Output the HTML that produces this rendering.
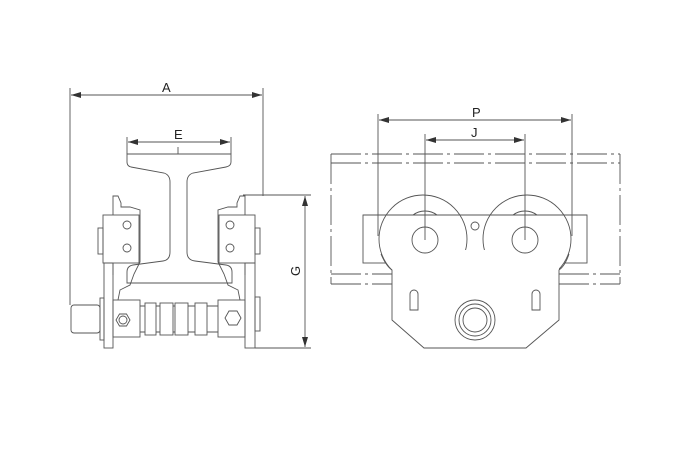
<!DOCTYPE html>
<html><head><meta charset="utf-8"><style>
html,body{margin:0;padding:0;background:#fff;}
svg{display:block}
text{font-family:"Liberation Sans",sans-serif;font-size:13px;fill:#222}
</style></head><body>
<svg width="690" height="460" viewBox="0 0 690 460" xmlns="http://www.w3.org/2000/svg">
<defs>
<marker id="ar" viewBox="0 0 10 6" refX="10" refY="3" markerWidth="10" markerHeight="6" orient="auto-start-reverse" markerUnits="userSpaceOnUse"><path d="M0,0 L10,3 L0,6 z" fill="#333"/></marker>
</defs>
<g fill="none" stroke="#555" stroke-width="0.9">
<line x1="70" y1="88" x2="70" y2="305"/>
<line x1="263" y1="88" x2="263" y2="196"/>
<line x1="71" y1="95" x2="262" y2="95" marker-start="url(#ar)" marker-end="url(#ar)"/>
<line x1="127" y1="137" x2="127" y2="154"/>
<line x1="231" y1="137" x2="231" y2="154"/>
<line x1="128" y1="142" x2="230" y2="142" marker-start="url(#ar)" marker-end="url(#ar)"/>
<line x1="178" y1="147" x2="178" y2="154"/>
<path d="M127,154 L231,154 L231,162 Q231,166 226,167 L193,173 Q187,175 187,182 L187,252 Q187,260 195,261 L226,265 Q232,266 232,272 L232,283 L127,283 L127,272 Q127,266 133,265 L163,261 Q170,260 170,252 L170,182 Q170,175 164,173 L131,167 Q127,166 127,162 Z"/>
<line x1="243" y1="195" x2="311" y2="195"/>
<line x1="255" y1="348" x2="311" y2="348"/>
<line x1="305" y1="196" x2="305" y2="347" marker-start="url(#ar)" marker-end="url(#ar)"/>
<path d="M113,275 L113,196 L118,196 L121,203 L121,207 L130,207 L140,210 L140,262 L134,274 L130,285 L120,290 L118,300"/>
<rect x="103" y="215" width="36" height="48" fill="#fff"/>
<circle cx="127" cy="225" r="4"/>
<circle cx="127" cy="248" r="4"/>
<rect x="98" y="228" width="5" height="26"/>
<rect x="104" y="263" width="9" height="85"/>
<path d="M245,275 L245,196 L240,196 L237,203 L237,207 L228,207 L218,210 L218,262 L224,274 L228,285 L238,290 L240,300"/>
<rect x="219" y="215" width="36" height="48" fill="#fff"/>
<circle cx="230" cy="225" r="4"/>
<circle cx="230" cy="248" r="4"/>
<rect x="255" y="228" width="5" height="26"/>
<rect x="245" y="263" width="10" height="85"/>
<rect x="255" y="297" width="5" height="34"/>
<rect x="71" y="305" width="29" height="28" rx="3"/>
<rect x="100" y="298" width="4" height="42"/>
<rect x="113" y="300" width="27" height="37"/>
<rect x="218" y="300" width="27" height="37"/>
<line x1="140" y1="306" x2="218" y2="306"/>
<line x1="140" y1="332" x2="218" y2="332"/>
<rect x="145" y="303" width="11" height="32" fill="#fff"/>
<rect x="160" y="303" width="13" height="32" fill="#fff"/>
<rect x="175" y="303" width="13" height="32" fill="#fff"/>
<rect x="195" y="303" width="12" height="32" fill="#fff"/>
<polygon points="130,320 126.5,326 119.5,326 116,320 119.5,314 126.5,314"/>
<circle cx="123" cy="320" r="4"/>
<polygon points="241,318 237,325 229,325 225,318 229,311 237,311"/>
<g stroke-dasharray="30,4,3,4">
<line x1="331" y1="154" x2="620" y2="154"/>
<line x1="331" y1="163" x2="620" y2="163"/>
<line x1="331" y1="274" x2="392" y2="274"/>
<line x1="331" y1="284" x2="392" y2="284"/>
<line x1="559" y1="274" x2="620" y2="274"/>
<line x1="559" y1="284" x2="620" y2="284"/>
<line x1="331" y1="154" x2="331" y2="284"/>
<line x1="620" y1="154" x2="620" y2="284"/>
</g>
<rect x="363" y="215" width="224" height="48"/>
<circle cx="423" cy="239" r="44" fill="#fff"/>
<circle cx="527" cy="239" r="44" fill="#fff"/>
<path d="M392,268 L392,320 L424,348 L526,348 L559,320 L559,268 L527,250 L423,250 Z" fill="#fff" stroke="none"/>
<path d="M381,254 Q386,266 392,270 L392,320 L424,348 L526,348 L559,320 L559,270 Q565,266 569,254"/>
<line x1="363" y1="215" x2="587" y2="215"/>
<path d="M413,215 A20,20 0 0 1 437,215"/>
<path d="M513,215 A20,20 0 0 1 537,215"/>
<circle cx="425" cy="240" r="13"/>
<circle cx="525" cy="240" r="13"/>
<circle cx="475" cy="226" r="4"/>
<path d="M410,310 L410,294 A4,4 0 0 1 418,294 L418,310 Z"/>
<path d="M532,310 L532,294 A4,4 0 0 1 540,294 L540,310 Z"/>
<circle cx="475" cy="320" r="20"/>
<circle cx="475" cy="320" r="16"/>
<circle cx="475" cy="320" r="12"/>
<line x1="378" y1="114" x2="378" y2="236"/>
<line x1="572" y1="114" x2="572" y2="236"/>
<line x1="379" y1="120" x2="571" y2="120" marker-start="url(#ar)" marker-end="url(#ar)"/>
<line x1="425" y1="134" x2="425" y2="240"/>
<line x1="525" y1="134" x2="525" y2="240"/>
<line x1="426" y1="140" x2="524" y2="140" marker-start="url(#ar)" marker-end="url(#ar)"/>
</g>
<text x="162" y="92">A</text>
<text x="174" y="139">E</text>
<text x="472" y="117">P</text>
<text x="471" y="137">J</text>
<text x="0" y="0" transform="translate(300,276) rotate(-90)">G</text>
</svg>
</body></html>
